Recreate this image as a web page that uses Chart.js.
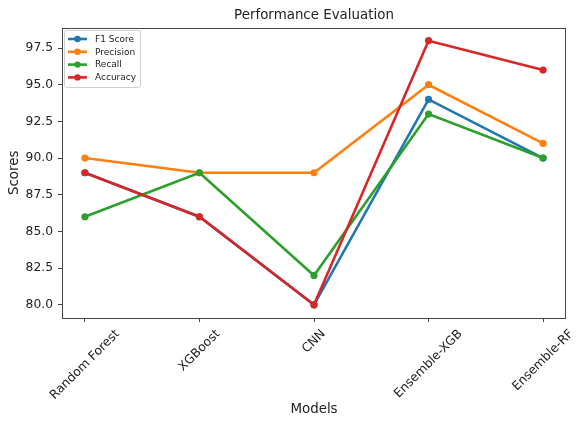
<!DOCTYPE html>
<html>
<head>
<meta charset="utf-8">
<script src="https://cdn.jsdelivr.net/npm/chart.js@4/dist/chart.umd.min.js"></script>
<style>
html,body{margin:0;padding:0;background:#fff;}
canvas{display:block;}
</style>
</head>
<body>
<canvas id="c" width="576" height="421"></canvas>
<script>
const models = ["Random Forest", "XGBoost", "CNN", "Ensemble-XGB", "Ensemble-RF"];
const f1Score = [89, 86, 80, 94, 90];
const precision = [90, 89, 89, 95, 91];
const recall = [86, 89, 82, 93, 90];
const accuracy = [89, 86, 80, 98, 96];
const yTicks = [80.0, 82.5, 85.0, 87.5, 90.0, 92.5, 95.0, 97.5];
const seriesNames = ["F1 Score", "Precision", "Recall", "Accuracy"];
const seriesColors = ["#1f77b4", "#ff7f0e", "#2ca02c", "#d62728"];
const seriesValues = [f1Score, precision, recall, accuracy];

const FONT = "'DejaVu Sans', sans-serif";
const TEXT = "#222";
const SPINE = "#444";

const datasets = seriesValues.map((vals, i) => ({
  label: seriesNames[i],
  data: vals.map((v, j) => ({x: j, y: v})),
  borderColor: seriesColors[i],
  backgroundColor: seriesColors[i],
  borderWidth: 2.6,
  pointRadius: 3.6,
  pointBorderWidth: 0,
  pointHoverRadius: 3.6,
  tension: 0,
  order: seriesValues.length - i
}));

const decor = {
  id: 'decor',
  afterDatasetsDraw(chart) {
    const ctx = chart.ctx;
    const a = chart.chartArea;
    const xs = chart.scales.x;
    ctx.save();
    // spines
    ctx.strokeStyle = SPINE;
    ctx.lineWidth = 1;
    ctx.strokeRect(Math.round(a.left) + 0.5, Math.round(a.top) + 0.5,
                   Math.round(a.right - a.left) - 1, Math.round(a.bottom - a.top) - 1);
    // title
    ctx.fillStyle = TEXT;
    ctx.font = "13.4px " + FONT;
    ctx.textAlign = 'center';
    ctx.textBaseline = 'middle';
    ctx.fillText("Performance Evaluation", (a.left + a.right) / 2, 15.5);
    // axis titles
    ctx.fillText("Models", (a.left + a.right) / 2, 410);
    ctx.save();
    ctx.translate(15, (a.top + a.bottom) / 2);
    ctx.rotate(-Math.PI / 2);
    ctx.fillText("Scores", 0, 0);
    ctx.restore();
    // x tick labels, rotated 45deg, centered like matplotlib
    const fs = 12.3;
    ctx.font = fs + "px " + FONT;
    models.forEach((m, i) => {
      const px = xs.getPixelForValue(i);
      const w = ctx.measureText(m).width;
      const h = fs * 1.15;
      const bb = (w + h) * Math.SQRT1_2;
      const cy = a.bottom + 9 + bb / 2;
      ctx.save();
      ctx.translate(px, cy);
      ctx.rotate(-Math.PI / 4);
      ctx.textAlign = 'center';
      ctx.textBaseline = 'middle';
      ctx.fillText(m, 0, 0);
      ctx.restore();
    });
    // legend
    const lx = 64, ly = 30, lw = 76, lh = 57;
    ctx.fillStyle = 'rgba(255,255,255,0.85)';
    ctx.strokeStyle = '#d0d0d0';
    ctx.lineWidth = 1;
    ctx.beginPath();
    if (ctx.roundRect) ctx.roundRect(lx + 0.5, ly + 0.5, lw, lh, 2); else ctx.rect(lx + 0.5, ly + 0.5, lw, lh);
    ctx.fill();
    ctx.stroke();
    ctx.font = "9px " + FONT;
    ctx.textAlign = 'left';
    ctx.textBaseline = 'middle';
    seriesNames.forEach((n, i) => {
      const y = ly + 9 + i * 12.8;
      ctx.strokeStyle = seriesColors[i];
      ctx.lineWidth = 2.6;
      ctx.beginPath();
      ctx.moveTo(68, y);
      ctx.lineTo(87, y);
      ctx.stroke();
      ctx.fillStyle = seriesColors[i];
      ctx.beginPath();
      ctx.arc(77.5, y, 3.2, 0, Math.PI * 2);
      ctx.fill();
      ctx.fillStyle = TEXT;
      ctx.fillText(n, 95, y + 0.5);
    });
    ctx.restore();
  }
};

new Chart(document.getElementById('c'), {
  type: 'line',
  data: { datasets },
  options: {
    responsive: false,
    animation: false,
    devicePixelRatio: 1,
    layout: { padding: { left: 0, right: 10, top: 27.5, bottom: 0 } },
    plugins: { legend: { display: false }, title: { display: false }, tooltip: { enabled: false } },
    scales: {
      x: {
        type: 'linear',
        min: -0.2,
        max: 4.2,
        afterBuildTicks: (s) => { s.ticks = models.map((m, i) => ({ value: i })); },
        afterFit: (s) => { s.height = 103; },
        ticks: { display: false },
        grid: { drawOnChartArea: false, drawTicks: true, tickLength: 4, color: SPINE },
        border: { display: false }
      },
      y: {
        type: 'linear',
        min: 79.1,
        max: 98.9,
        afterBuildTicks: (s) => { s.ticks = yTicks.map(v => ({ value: v })); },
        afterFit: (s) => { s.width = 62; },
        ticks: {
          autoSkip: false,
          padding: 5,
          color: TEXT,
          font: { family: FONT, size: 12.3 },
          callback: (v) => Number(v).toFixed(1)
        },
        grid: { drawOnChartArea: false, drawTicks: true, tickLength: 4, color: SPINE },
        border: { display: false }
      }
    }
  },
  plugins: [decor]
});
</script>
</body>
</html>
